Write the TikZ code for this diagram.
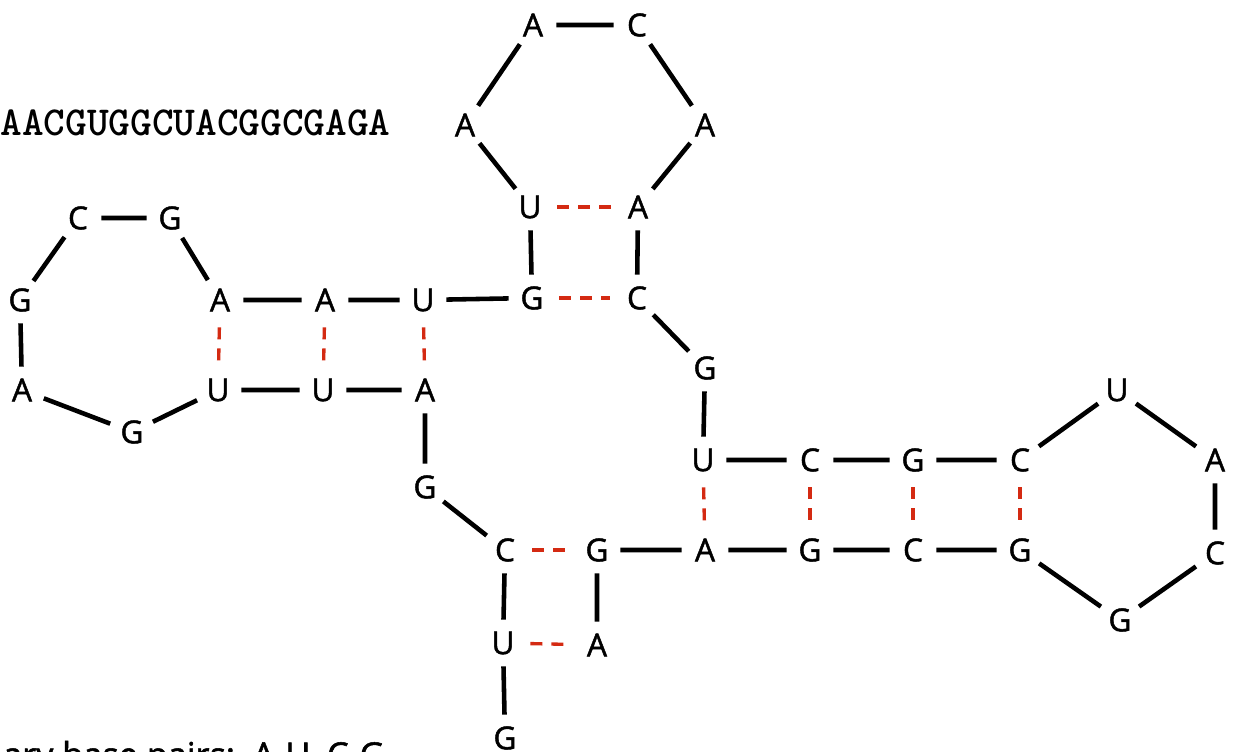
\documentclass[tikz,border=0pt]{standalone}
\usepackage{fontspec}
\setmainfont{Open Sans}
\usetikzlibrary{positioning}
\definecolor{clrBond}{HTML}{000000}
\definecolor{clrPair}{HTML}{D42A12}

\begin{document}
\begin{tikzpicture}[
  x=0.02cm, y=-0.02cm,
  base/.style = {
    circle,
    minimum size=46*0.02cm,
    inner sep=0pt,
    font=\fontsize{18}{21}\selectfont\addfontfeature{FakeBold=1.5}
  },
  bond/.style = {
    line width=2.6pt,
    color=clrBond
  },
  pair/.style = {
    line width=1.9pt,
    color=clrPair,
    shorten >=4*0.02cm, shorten <=4*0.02cm,
    dash pattern=on 12*0.02cm off 9*0.02cm
  },
  caption/.style = {
    inner sep=0pt,
    font=\fontsize{19.5}{22}\selectfont\addfontfeature{FakeBold=1.5}
  }
]
\useasboundingbox (0,0) rectangle (1238,751);
\clip (0,0) rectangle (1238,751);

% ── sequence and caption ─────────────────────────────────────────────────────
\node[inner sep=0pt, anchor=base west,
      font=\ttfamily\bfseries\fontsize{23.5}{26}\selectfont\addfontfeature{FakeBold=4}]
  (seq) at (0,135) {AACGUGGCUACGGCGAGA};
\node[caption, anchor=base east] (pairs) at (385,767) {ary base pairs:\ \ A-U, C-G};

% ── top hairpin ──────────────────────────────────────────────────────────────
\node[base] (ta)  at (533,25)  {A};
\node[base] (tc)  at (637,25)  {C};
\node[base] (tal) at (465,125) {A};
\node[base] (tar) at (705,125) {A};
\node[base] (tu)  at (530,207) {U};
\node[base] (tpa) at (638,207) {A};
\node[base] (tg)  at (532,298) {G};
\node[base] (tpc) at (637,298) {C};

% ── left hairpin ─────────────────────────────────────────────────────────────
\node[base] (lc)  at (78,218)  {C};
\node[base] (lg)  at (170,218) {G};
\node[base] (lgl) at (20,300)  {G};
\node[base] (la1) at (220,300) {A};
\node[base] (la2) at (325,300) {A};
\node[base] (lu)  at (423,300) {U};
\node[base] (lal) at (22,390)  {A};
\node[base] (lu1) at (218,390) {U};
\node[base] (lu2) at (323,390) {U};
\node[base] (la3) at (425,390) {A};
\node[base] (lgb) at (132,432) {G};

% ── junction ─────────────────────────────────────────────────────────────────
\node[base] (jg)  at (425,487) {G};
\node[base] (jc)  at (505,550) {C};
\node[base] (jg2) at (597,550) {G};
\node[base] (ju)  at (503,643) {U};
\node[base] (ja)  at (597,645) {A};
\node[base] (jgb) at (505,738) {G};

% ── right hairpin ────────────────────────────────────────────────────────────
\node[base] (rg)  at (705,368)  {G};
\node[base] (ru)  at (703,460)  {U};
\node[base] (rc1) at (810,460)  {C};
\node[base] (rg1) at (913,460)  {G};
\node[base] (rc2) at (1020,460) {C};
\node[base] (ra)  at (705,550)  {A};
\node[base] (rg2) at (810,550)  {G};
\node[base] (rc3) at (913,550)  {C};
\node[base] (rg3) at (1020,550) {G};
\node[base] (rlu) at (1117,390) {U};
\node[base] (rla) at (1215,460) {A};
\node[base] (rlc) at (1215,553) {C};
\node[base] (rlg) at (1120,620) {G};

% ── backbone ─────────────────────────────────────────────────────────────────
\draw[bond] (jgb) -- (ju) -- (jc) -- (jg) -- (la3) -- (lu2) -- (lu1) -- (lgb)
  -- (lal) -- (lgl) -- (lc) -- (lg) -- (la1) -- (la2) -- (lu) -- (tg) -- (tu)
  -- (tal) -- (ta) -- (tc) -- (tar) -- (tpa) -- (tpc) -- (rg) -- (ru) -- (rc1)
  -- (rg1) -- (rc2) -- (rlu) -- (rla) -- (rlc) -- (rlg) -- (rg3) -- (rc3)
  -- (rg2) -- (ra) -- (jg2) -- (ja);

% ── base pairs ───────────────────────────────────────────────────────────────
\draw[pair] (tu)  -- (tpa);
\draw[pair] (tg)  -- (tpc);
\draw[pair] (la1) -- (lu1);
\draw[pair] (la2) -- (lu2);
\draw[pair] (lu)  -- (la3);
\draw[pair] (jc)  -- (jg2);
\draw[pair] (ju)  -- (ja);
\draw[pair] (ru)  -- (ra);
\draw[pair] (rc1) -- (rg2);
\draw[pair] (rg1) -- (rc3);
\draw[pair] (rc2) -- (rg3);

\end{tikzpicture}
\end{document}
